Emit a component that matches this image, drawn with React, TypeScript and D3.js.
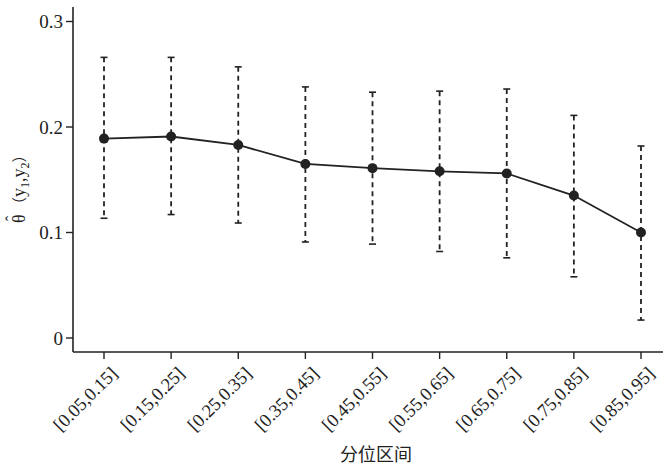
import React from "react";
import * as d3 from "d3";

const categories = ["[0.05,0.15]", "[0.15,0.25]", "[0.25,0.35]", "[0.35,0.45]", "[0.45,0.55]", "[0.55,0.65]", "[0.65,0.75]", "[0.75,0.85]", "[0.85,0.95]"];
const estimates = [0.189, 0.191, 0.183, 0.165, 0.161, 0.158, 0.156, 0.135, 0.100];
const upper = [0.266, 0.266, 0.257, 0.238, 0.233, 0.234, 0.236, 0.211, 0.182];
const lower = [0.1135, 0.117, 0.109, 0.091, 0.089, 0.082, 0.076, 0.058, 0.017];
const yTicks = [0, 0.1, 0.2, 0.3];
const yTickLabels = ["0", "0.1", "0.2", "0.3"];

const W = 663, H = 466;
const serif = "Liberation Serif";
const cjk = "Noto Sans CJK SC";
const ink = "#222";

export default function App() {
  const x = d3.scalePoint<string>().domain(categories).range([104, 641]);
  const y = d3.scaleLinear().domain([0, 0.3]).range([338, 21.5]);
  const axisY = 352;
  const axisX = 73;
  const line = d3.line<number>().x((_, i) => x(categories[i])!).y((d) => y(d));

  return (
    <svg width={W} height={H} style={{ position: "absolute", left: 0, top: 0, background: "#fff" }}>
      <line x1={axisX} x2={axisX} y1={7} y2={axisY} stroke={ink} strokeWidth={1.6} />
      <line x1={axisX} x2={W} y1={axisY} y2={axisY} stroke={ink} strokeWidth={1.6} />
      {yTicks.map((t, i) => (
        <g key={t}>
          <line x1={axisX - 7} x2={axisX} y1={y(t)} y2={y(t)} stroke={ink} strokeWidth={1.4} />
          <text x={axisX - 10} y={y(t)} dy="0.35em" textAnchor="end" style={{ fontFamily: serif }} fontSize={19} fill={ink}>
            {yTickLabels[i]}
          </text>
        </g>
      ))}
      {categories.map((c) => (
        <g key={c}>
          <line x1={x(c)} x2={x(c)} y1={axisY} y2={axisY + 7} stroke={ink} strokeWidth={1.4} />
          <text
            transform={`translate(${x(c)! + 10},${axisY + 18}) rotate(-45)`}
            textAnchor="end"
            dy="0.35em"
            style={{ fontFamily: serif }}
            fontSize={18.5}
            fill={ink}
          >
            {c}
          </text>
        </g>
      ))}
      {categories.map((c, i) => (
        <g key={"e" + c}>
          <line x1={x(c)} x2={x(c)} y1={y(upper[i])} y2={y(lower[i])} stroke={ink} strokeWidth={1.8} strokeDasharray="5,4" />
          <line x1={x(c)! - 3.5} x2={x(c)! + 3.5} y1={y(upper[i])} y2={y(upper[i])} stroke={ink} strokeWidth={1.6} />
          <line x1={x(c)! - 3.5} x2={x(c)! + 3.5} y1={y(lower[i])} y2={y(lower[i])} stroke={ink} strokeWidth={1.6} />
        </g>
      ))}
      <path d={line(estimates)!} fill="none" stroke={ink} strokeWidth={1.8} />
      {estimates.map((v, i) => (
        <circle key={"p" + i} cx={x(categories[i])} cy={y(v)} r={5} fill={ink} />
      ))}
      <text x={376} y={461} textAnchor="middle" style={{ fontFamily: cjk }} fontSize={18} fill={ink}>
        分位区间
      </text>
      <g transform="translate(25,223) rotate(-90)">
        <text x={0} y={0} style={{ fontFamily: serif }} fontSize={18} fill={ink}>θ</text>
        <text x={4.5} y={-8} textAnchor="middle" style={{ fontFamily: serif }} fontSize={16} fill={ink}>ˆ</text>
        <text x={11} y={0} style={{ fontFamily: serif }} fontSize={18} fill={ink}>
          <tspan style={{ fontFamily: cjk }} fontSize={15}>（</tspan>
          <tspan>y</tspan>
          <tspan fontSize={12} dy={4}>1</tspan>
          <tspan dy={-4}>,y</tspan>
          <tspan fontSize={12} dy={4}>2</tspan>
          <tspan dy={-4} style={{ fontFamily: cjk }} fontSize={15}>）</tspan>
        </text>
      </g>
    </svg>
  );
}
